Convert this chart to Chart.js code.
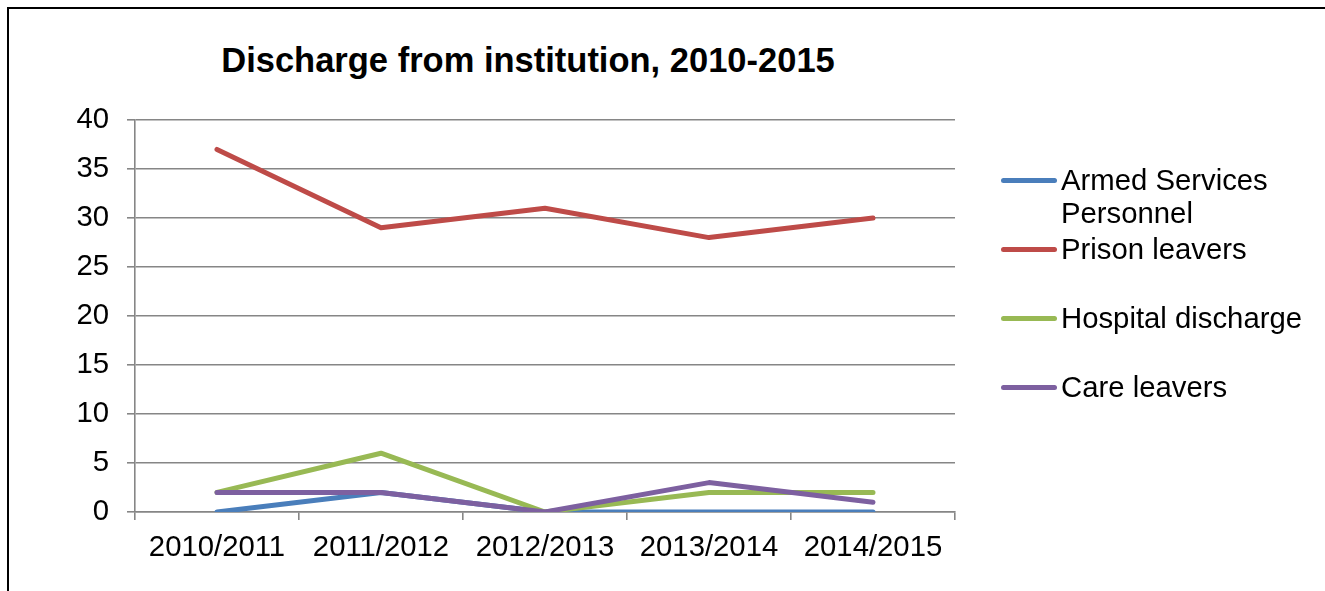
<!DOCTYPE html>
<html lang="en">
<head>
    <meta charset="UTF-8">
    <title>Discharge from institution, 2010-2015</title>
    <script src="https://cdn.jsdelivr.net/npm/chart.js"></script>
    <style>
        html, body {
            margin: 0;
            padding: 0;
            background: #fff;
            overflow: hidden;
            width: 1325px;
            height: 591px;
            font-family: "Liberation Sans", Arial, sans-serif;
        }
        .frame {
            position: absolute;
            left: 7px;
            top: 7px;
            width: 1400px;
            height: 700px;
            border: 2px solid #000;
        }
        .title {
            position: absolute;
            left: 0;
            top: 43px;
            width: 1056px;
            text-align: center;
            font-weight: bold;
            font-size: 34.5px;
            line-height: 34px;
            color: #000;
        }
        #chartBox {
            position: absolute;
            left: 0;
            top: 0;
            width: 1325px;
            height: 591px;
        }
        #legend {
            position: absolute;
            left: 1001px;
            top: 163px;
        }
        .item {
            display: flex;
            align-items: flex-start;
            height: 69px;
        }
        .swatch {
            width: 56px;
            height: 5px;
            border-radius: 3px;
            margin-top: 15px;
            margin-right: 4px;
        }
        .label {
            width: 260px;
            font-size: 29.3px;
            line-height: 33px;
            color: #000;
        }
    </style>
</head>
<body>
    <div class="frame"></div>
    <div class="title">Discharge from institution, 2010-2015</div>
    <div id="chartBox"><canvas id="chart"></canvas></div>
    <div id="legend"></div>

    <script>
        const years = ['2010/2011', '2011/2012', '2012/2013', '2013/2014', '2014/2015'];
        const armedServices = [0, 2, 0, 0, 0];
        const prisonLeavers = [37, 29, 31, 28, 30];
        const hospitalDischarge = [2, 6, 0, 2, 2];
        const careLeavers = [2, 2, 0, 3, 1];
        const yTicks = [0, 5, 10, 15, 20, 25, 30, 35, 40];

        const gridColor = '#868686';
        const tickFont = { family: '"Liberation Sans", Arial, sans-serif', size: 29.3 };

        function line(label, data, color, order) {
            return {
                label: label,
                data: data,
                borderColor: color,
                backgroundColor: color,
                borderWidth: 5,
                borderCapStyle: 'round',
                borderJoinStyle: 'round',
                pointRadius: 0,
                tension: 0,
                order: order
            };
        }

        const chart = new Chart(document.getElementById('chart'), {
            type: 'line',
            data: {
                labels: years,
                datasets: [
                    line('Armed Services Personnel', armedServices, '#4A7EBB', 4),
                    line('Prison leavers', prisonLeavers, '#BE4B48', 3),
                    line('Hospital discharge', hospitalDischarge, '#98B954', 2),
                    line('Care leavers', careLeavers, '#7D60A0', 1)
                ]
            },
            options: {
                responsive: true,
                maintainAspectRatio: false,
                animation: false,
                layout: { padding: { top: 120, right: 370, left: 0, bottom: 0 } },
                plugins: {
                    legend: { display: false },
                    title: { display: false },
                    tooltip: { enabled: false }
                },
                scales: {
                    x: {
                        offset: true,
                        afterFit: function (scale) { scale.height = 79; },
                        grid: {
                            offset: true,
                            drawOnChartArea: false,
                            drawTicks: true,
                            tickLength: 8,
                            color: gridColor,
                            lineWidth: 1.6
                        },
                        border: { color: gridColor, width: 1.6 },
                        ticks: { color: '#000', font: tickFont, padding: 10, maxRotation: 0 }
                    },
                    y: {
                        min: 0,
                        max: 40,
                        afterFit: function (scale) { scale.width = 135; },
                        afterBuildTicks: function (scale) {
                            scale.ticks = yTicks.map(v => ({ value: v }));
                        },
                        grid: {
                            drawTicks: true,
                            tickLength: 8,
                            color: gridColor,
                            lineWidth: 1.6
                        },
                        border: { color: gridColor, width: 1.6 },
                        ticks: { color: '#000', font: tickFont, padding: 18 }
                    }
                }
            }
        });

        // legend in the original order
        const legend = document.getElementById('legend');
        chart.data.datasets.forEach(function (ds) {
            const item = document.createElement('div');
            item.className = 'item';
            item.innerHTML = '<div class="swatch" style="background:' + ds.borderColor + '"></div>' +
                '<div class="label">' + ds.label + '</div>';
            legend.appendChild(item);
        });
    </script>
</body>
</html>
